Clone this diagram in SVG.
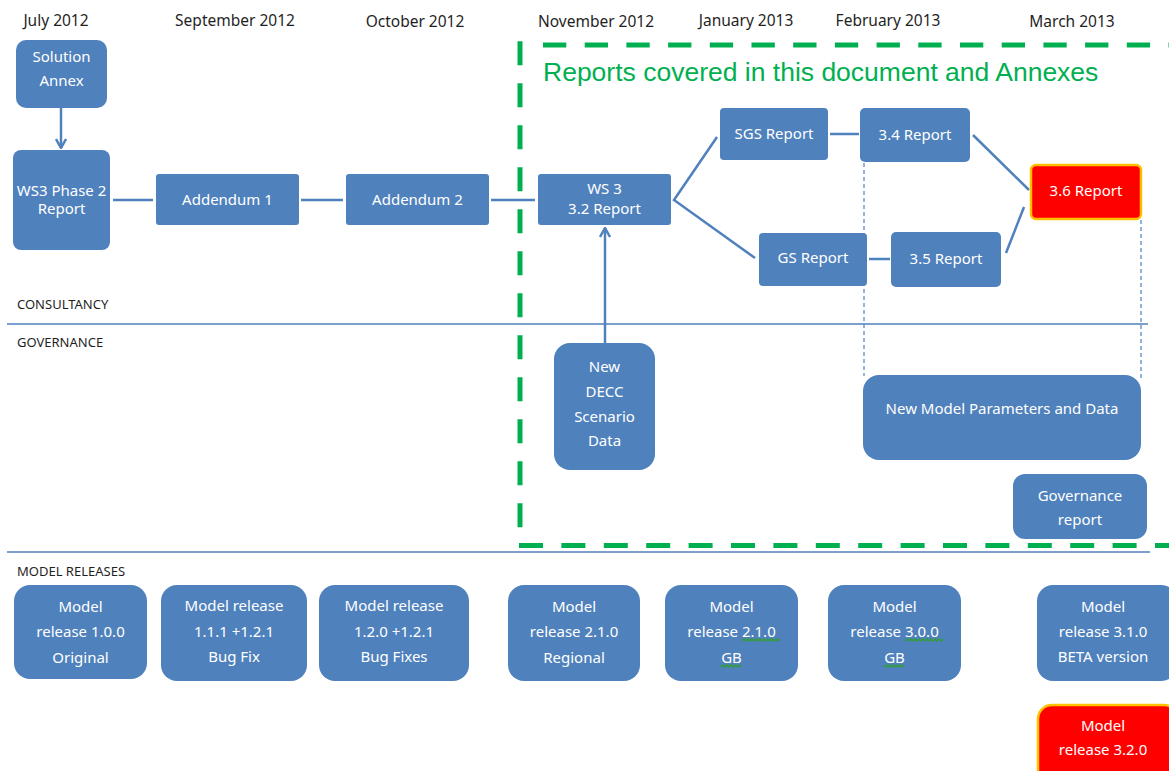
<svg xmlns="http://www.w3.org/2000/svg" width="1169" height="771" viewBox="0 0 1169 771">
<style>
.box{fill:#4F81BD;}
.red{fill:#FF0000;stroke:#FFC000;stroke-width:2.5;}
.bt{font-family:"Noto Sans",sans-serif;font-size:15px;fill:#ffffff;text-anchor:middle;}
.hd{font-family:"Noto Sans",sans-serif;font-size:15.5px;fill:#1f1f1f;text-anchor:middle;}
.sec{font-family:"Noto Sans",sans-serif;font-size:13px;fill:#1f1f1f;}
.con{stroke:#4F81BD;stroke-width:2.5;fill:none;}
.thin{stroke:#4F81BD;stroke-width:1.2;fill:none;stroke-dasharray:4 3;}
.sep{stroke:#4F81BD;stroke-width:1.5;fill:none;}
.grn{stroke:#00B050;stroke-width:5;fill:none;}
.sq{stroke:#2f9e2f;stroke-width:1.3;fill:none;}
</style>
<defs>
<marker id="chev" viewBox="0 0 12 12" refX="11" refY="6" markerWidth="12" markerHeight="12" markerUnits="userSpaceOnUse" orient="auto">
<path d="M2,1 L11,6 L2,11" fill="none" stroke="#4F81BD" stroke-width="2.5"/>
</marker>
</defs>
<rect width="1169" height="771" fill="#ffffff"/>

<g id="headers">
<text class="hd" x="56" y="26">July 2012</text>
<text class="hd" x="235" y="26">September 2012</text>
<text class="hd" x="415" y="27">October 2012</text>
<text class="hd" x="596" y="27">November 2012</text>
<text class="hd" x="746" y="26">January 2013</text>
<text class="hd" x="888" y="26">February 2013</text>
<text class="hd" x="1072" y="27">March 2013</text>
</g>

<g id="lanes">
<line class="sep" x1="7" y1="324" x2="1148" y2="324"/>
<line class="sep" x1="7" y1="552" x2="1150" y2="552"/>
<text class="sec" x="17" y="309">CONSULTANCY</text>
<text class="sec" x="17" y="347">GOVERNANCE</text>
<text class="sec" x="17" y="576">MODEL RELEASES</text>
</g>

<g id="scope">
<line class="grn" x1="520" y1="41.3" x2="520" y2="545" stroke-dasharray="24 18"/>
<line class="grn" x1="543" y1="45" x2="1169" y2="45" stroke-dasharray="23.3 18.4"/>
<line class="grn" x1="519" y1="545.5" x2="1169" y2="545.5" stroke-dasharray="24 18.4"/>
<text x="543" y="81" font-family="Liberation Sans, Arial, sans-serif" font-size="26.5" fill="#00B050">Reports covered in this document and Annexes</text>
</g>

<g id="connectors">
<line class="con" x1="61" y1="108" x2="61" y2="148" marker-end="url(#chev)"/>
<line class="con" x1="113" y1="200" x2="153" y2="200"/>
<line class="con" x1="301" y1="200" x2="343" y2="200"/>
<line class="con" x1="491" y1="200" x2="535" y2="200"/>
<polyline class="con" points="717,137 674,200 755,258"/>
<line class="con" x1="830" y1="134" x2="859" y2="134"/>
<line class="con" x1="973" y1="135" x2="1029" y2="190"/>
<line class="con" x1="869" y1="259" x2="890" y2="259"/>
<line class="con" x1="1006" y1="253" x2="1024" y2="207"/>
<line class="con" x1="605" y1="343" x2="605" y2="228" marker-end="url(#chev)"/>
<line class="thin" x1="864" y1="163" x2="864" y2="376"/>
<line class="thin" x1="1141" y1="220" x2="1141" y2="378"/>
</g>

<g id="solution-annex">
<rect class="box" x="16" y="40" width="91" height="68" rx="10"/>
<text class="bt" x="61.5" y="62">Solution</text>
<text class="bt" x="61.5" y="86">Annex</text>
</g>
<g id="ws3-phase2">
<rect class="box" x="13" y="150" width="97" height="100" rx="8"/>
<text class="bt" x="61.5" y="196">WS3 Phase 2</text>
<text class="bt" x="61.5" y="214">Report</text>
</g>
<g id="addendum1">
<rect class="box" x="156" y="174" width="143" height="51" rx="3"/>
<text class="bt" x="227.5" y="205">Addendum 1</text>
</g>
<g id="addendum2">
<rect class="box" x="346" y="174" width="143" height="51" rx="3"/>
<text class="bt" x="417.5" y="205">Addendum 2</text>
</g>
<g id="ws3-32">
<rect class="box" x="538" y="174" width="133" height="51" rx="3"/>
<text class="bt" x="604.5" y="194">WS 3</text>
<text class="bt" x="604.5" y="214">3.2 Report</text>
</g>
<g id="sgs-report">
<rect class="box" x="720" y="108" width="108" height="52" rx="4"/>
<text class="bt" x="774" y="139">SGS Report</text>
</g>
<g id="report34">
<rect class="box" x="860" y="108" width="110" height="54" rx="5"/>
<text class="bt" x="915" y="140">3.4 Report</text>
</g>
<g id="report36">
<rect class="red" x="1031" y="165" width="110" height="54" rx="5"/>
<text class="bt" x="1086" y="196">3.6 Report</text>
</g>
<g id="gs-report">
<rect class="box" x="759" y="233" width="108" height="53" rx="4"/>
<text class="bt" x="813" y="263">GS Report</text>
</g>
<g id="report35">
<rect class="box" x="891" y="232" width="110" height="55" rx="5"/>
<text class="bt" x="946" y="264">3.5 Report</text>
</g>
<g id="new-decc">
<rect class="box" x="554" y="343" width="101" height="127" rx="16"/>
<text class="bt" x="604.5" y="372">New</text>
<text class="bt" x="604.5" y="397">DECC</text>
<text class="bt" x="604.5" y="422">Scenario</text>
<text class="bt" x="604.5" y="446">Data</text>
</g>
<g id="new-model-params">
<rect class="box" x="863" y="375" width="278" height="85" rx="16"/>
<text class="bt" x="1002" y="414">New Model Parameters and Data</text>
</g>
<g id="governance-report">
<rect class="box" x="1013" y="474" width="134" height="65" rx="12"/>
<text class="bt" x="1080" y="501">Governance</text>
<text class="bt" x="1080" y="525">report</text>
</g>

<g id="mr100">
<rect class="box" x="14" y="585" width="133" height="94" rx="16"/>
<text class="bt" x="80.5" y="612">Model</text>
<text class="bt" x="80.5" y="637">release 1.0.0</text>
<text class="bt" x="80.5" y="663">Original</text>
</g>
<g id="mr111">
<rect class="box" x="161" y="585" width="146" height="96" rx="16"/>
<text class="bt" x="234" y="611">Model release</text>
<text class="bt" x="234" y="637">1.1.1 +1.2.1</text>
<text class="bt" x="234" y="662">Bug Fix</text>
</g>
<g id="mr120">
<rect class="box" x="319" y="585" width="150" height="96" rx="16"/>
<text class="bt" x="394" y="611">Model release</text>
<text class="bt" x="394" y="637">1.2.0 +1.2.1</text>
<text class="bt" x="394" y="662">Bug Fixes</text>
</g>
<g id="mr210r">
<rect class="box" x="508" y="585" width="132" height="96" rx="16"/>
<text class="bt" x="574" y="612">Model</text>
<text class="bt" x="574" y="637">release 2.1.0</text>
<text class="bt" x="574" y="663">Regional</text>
</g>
<g id="mr210gb">
<rect class="box" x="665" y="585" width="133" height="96" rx="16"/>
<text class="bt" x="731.5" y="612">Model</text>
<text class="bt" x="731.5" y="637">release 2.1.0</text>
<text class="bt" x="731.5" y="663">GB</text>
<path class="sq" d="M742,641 l2,-2 l2,2 l2,-2 l2,2 l2,-2 l2,2 l2,-2 l2,2 l2,-2 l2,2 l2,-2 l2,2 l2,-2 l2,2 l2,-2 l2,2 l2,-2 l2,2 l2,-2"/>
<path class="sq" d="M721,667 l2,-2 l2,2 l2,-2 l2,2 l2,-2 l2,2 l2,-2 l2,2 l2,-2 l2,2"/>
</g>
<g id="mr300gb">
<rect class="box" x="828" y="585" width="133" height="96" rx="16"/>
<text class="bt" x="894.5" y="612">Model</text>
<text class="bt" x="894.5" y="637">release 3.0.0</text>
<text class="bt" x="894.5" y="663">GB</text>
<path class="sq" d="M905,641 l2,-2 l2,2 l2,-2 l2,2 l2,-2 l2,2 l2,-2 l2,2 l2,-2 l2,2 l2,-2 l2,2 l2,-2 l2,2 l2,-2 l2,2 l2,-2 l2,2 l2,-2"/>
<path class="sq" d="M884,667 l2,-2 l2,2 l2,-2 l2,2 l2,-2 l2,2 l2,-2 l2,2 l2,-2 l2,2"/>
</g>
<g id="mr310beta">
<rect class="box" x="1037" y="585" width="140" height="96" rx="16"/>
<text class="bt" x="1103" y="612">Model</text>
<text class="bt" x="1103" y="637">release 3.1.0</text>
<text class="bt" x="1103" y="662">BETA version</text>
</g>
<g id="mr320">
<rect class="red" x="1038" y="705" width="140" height="80" rx="14"/>
<text class="bt" x="1103" y="731">Model</text>
<text class="bt" x="1103" y="755">release 3.2.0</text>
</g>
</svg>
